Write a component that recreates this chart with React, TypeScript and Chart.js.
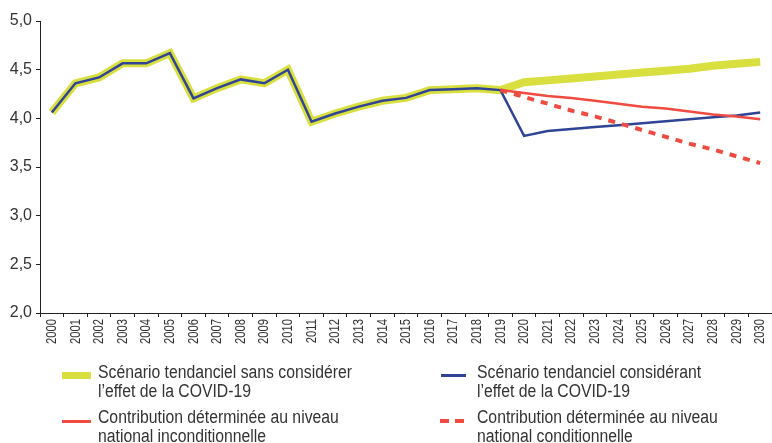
import React, { useEffect, useRef } from "react";
import { Chart, registerables } from "chart.js";

Chart.register(...registerables);

const years = [
  "2000", "2001", "2002", "2003", "2004", "2005", "2006", "2007", "2008", "2009", "2010",
  "2011", "2012", "2013", "2014", "2015", "2016", "2017", "2018", "2019", "2020",
  "2021", "2022", "2023", "2024", "2025", "2026", "2027", "2028", "2029", "2030",
];

// 2000-2019 observed values (shared by both scenario lines)
const historical = [
  4.06, 4.36, 4.42, 4.565, 4.565, 4.67, 4.205, 4.31, 4.4, 4.36, 4.5,
  3.965, 4.05, 4.12, 4.18, 4.21, 4.29, 4.3, 4.31, 4.29,
];
// 2020-2030 projections
const trendNoCovid = [4.37, 4.39, 4.41, 4.43, 4.45, 4.47, 4.49, 4.51, 4.54, 4.56, 4.58];
const trendCovid = [3.82, 3.87, 3.89, 3.91, 3.93, 3.95, 3.97, 3.99, 4.01, 4.03, 4.06];
// 2019-2030 contributions
const cdnUnconditional = [4.29, 4.26, 4.23, 4.21, 4.18, 4.15, 4.12, 4.1, 4.07, 4.04, 4.02, 3.99];
const cdnConditional = [4.29, 4.22, 4.15, 4.08, 4.02, 3.95, 3.88, 3.81, 3.74, 3.68, 3.61, 3.54];

const yTicks = [2.0, 2.5, 3.0, 3.5, 4.0, 4.5, 5.0];

const legendLabels = [
  ["Scénario tendanciel sans considérer", "l\u2019effet de la COVID-19"],
  ["Scénario tendanciel considérant", "l\u2019effet de la COVID-19"],
  ["Contribution déterminée au niveau", "national inconditionnelle"],
  ["Contribution déterminée au niveau", "national conditionnelle"],
];

const YELLOW = "#d9df3e";
const BLUE = "#2f4494";
const RED = "#ef4b41";
const TEXT = "#333333";
const AXIS = "#222222";

const X_TICK_LEN = 4;
const X_TICK_PAD = 2;
const X_LABEL_SQUEEZE = 0.75;

const nulls = (n: number) => Array.from({ length: n }, () => null as number | null);

// Draws the x tick labels in a condensed form (squeezed along the text direction)
const condensedXLabels = {
  id: "condensedXLabels",
  afterLayout(chart: any) {
    const s: any = chart.scales.x;
    if (!s || s.__condensed) return;
    const orig = s.drawLabels.bind(s);
    s._computeLabelArea = () => undefined;
    s.drawLabels = (ca: any) => {
      const ctx = chart.ctx;
      const y0 = s.top + X_TICK_LEN + X_TICK_PAD;
      ctx.save();
      ctx.translate(0, y0);
      ctx.scale(1, X_LABEL_SQUEEZE);
      ctx.translate(0, -y0);
      orig(ca);
      ctx.restore();
    };
    s.__condensed = true;
  },
};

export default function App() {
  const canvasRef = useRef<HTMLCanvasElement | null>(null);

  useEffect(() => {
    const canvas = canvasRef.current;
    if (!canvas) return;
    const chart = new Chart(canvas, {
      type: "line",
      data: {
        labels: years,
        datasets: [
          {
            label: "noCovid",
            data: [...historical, ...trendNoCovid],
            borderColor: YELLOW,
            borderWidth: 8,
            pointRadius: 0,
            tension: 0,
            order: 10,
          },
          {
            label: "covid",
            data: [...historical, ...trendCovid],
            borderColor: BLUE,
            borderWidth: 2.5,
            pointRadius: 0,
            tension: 0,
            order: 3,
          },
          {
            label: "uncond",
            data: [...nulls(19), ...cdnUnconditional],
            borderColor: RED,
            borderWidth: 2.5,
            pointRadius: 0,
            tension: 0,
            order: 2,
          },
          {
            label: "cond",
            data: [...nulls(19), ...cdnConditional],
            borderColor: RED,
            borderWidth: 4,
            borderDash: [7, 7],
            pointRadius: 0,
            tension: 0,
            order: 1,
          },
        ],
      },
      plugins: [condensedXLabels],
      options: {
        responsive: false,
        animation: false,
        devicePixelRatio: 1,
        layout: { padding: { top: 21, right: 0, bottom: 99, left: 0 } },
        plugins: { legend: { display: false }, tooltip: { enabled: false } },
        scales: {
          x: {
            type: "category",
            offset: true,
            afterFit: (scale: any) => {
              scale.height = 31;
              scale.paddingLeft = 0;
              scale.paddingRight = 0;
            },
            border: { display: true, color: AXIS, width: 1 },
            grid: {
              display: true,
              drawOnChartArea: false,
              drawTicks: true,
              tickLength: X_TICK_LEN,
              offset: true,
              color: AXIS,
            },
            ticks: {
              minRotation: 90,
              maxRotation: 90,
              autoSkip: false,
              padding: X_TICK_PAD,
              color: TEXT,
              font: { family: "'Liberation Sans', Arial, sans-serif", size: 15 },
            },
          },
          y: {
            min: 2,
            max: 5,
            afterFit: (scale: any) => {
              scale.width = 40;
            },
            afterBuildTicks: (scale: any) => {
              scale.ticks = yTicks.map((v) => ({ value: v }));
            },
            border: { display: true, color: AXIS, width: 1 },
            grid: {
              display: true,
              drawOnChartArea: false,
              drawTicks: true,
              tickLength: 4,
              color: AXIS,
            },
            ticks: {
              padding: 4,
              color: TEXT,
              font: { family: "'Liberation Sans', Arial, sans-serif", size: 16 },
              callback: (v: any) => Number(v).toFixed(1).replace(".", ","),
            },
          },
        },
      },
    });
    return () => chart.destroy();
  }, []);

  const textStyle: React.CSSProperties = {
    position: "absolute",
    fontFamily: "'Liberation Sans', Arial, sans-serif",
    fontSize: 18,
    lineHeight: "19px",
    color: TEXT,
    whiteSpace: "nowrap",
    transform: "scaleX(0.875)",
    transformOrigin: "0 0",
  };

  const textBlock = (lines: string[], left: number, top: number) => (
    <div style={{ ...textStyle, left, top }}>
      {lines[0]}
      <br />
      {lines[1]}
    </div>
  );

  return (
    <div
      style={{
        position: "absolute",
        left: 0,
        top: 0,
        width: 772,
        height: 443,
        overflow: "hidden",
        background: "#ffffff",
      }}
    >
      <canvas ref={canvasRef} width={772} height={443} style={{ display: "block" }} />
      {/* legend markers */}
      <div style={{ position: "absolute", left: 62, top: 372, width: 29, height: 7, background: YELLOW }} />
      <div style={{ position: "absolute", left: 441, top: 374, width: 25, height: 2.5, background: BLUE }} />
      <div style={{ position: "absolute", left: 62, top: 420, width: 29, height: 2.5, background: RED }} />
      <div style={{ position: "absolute", left: 440, top: 419, width: 9, height: 4, background: RED }} />
      <div style={{ position: "absolute", left: 455, top: 419, width: 9, height: 4, background: RED }} />
      {/* legend texts */}
      {textBlock(legendLabels[0], 98, 363)}
      {textBlock(legendLabels[1], 477, 363)}
      {textBlock(legendLabels[2], 98, 408)}
      {textBlock(legendLabels[3], 477, 408)}
    </div>
  );
}
